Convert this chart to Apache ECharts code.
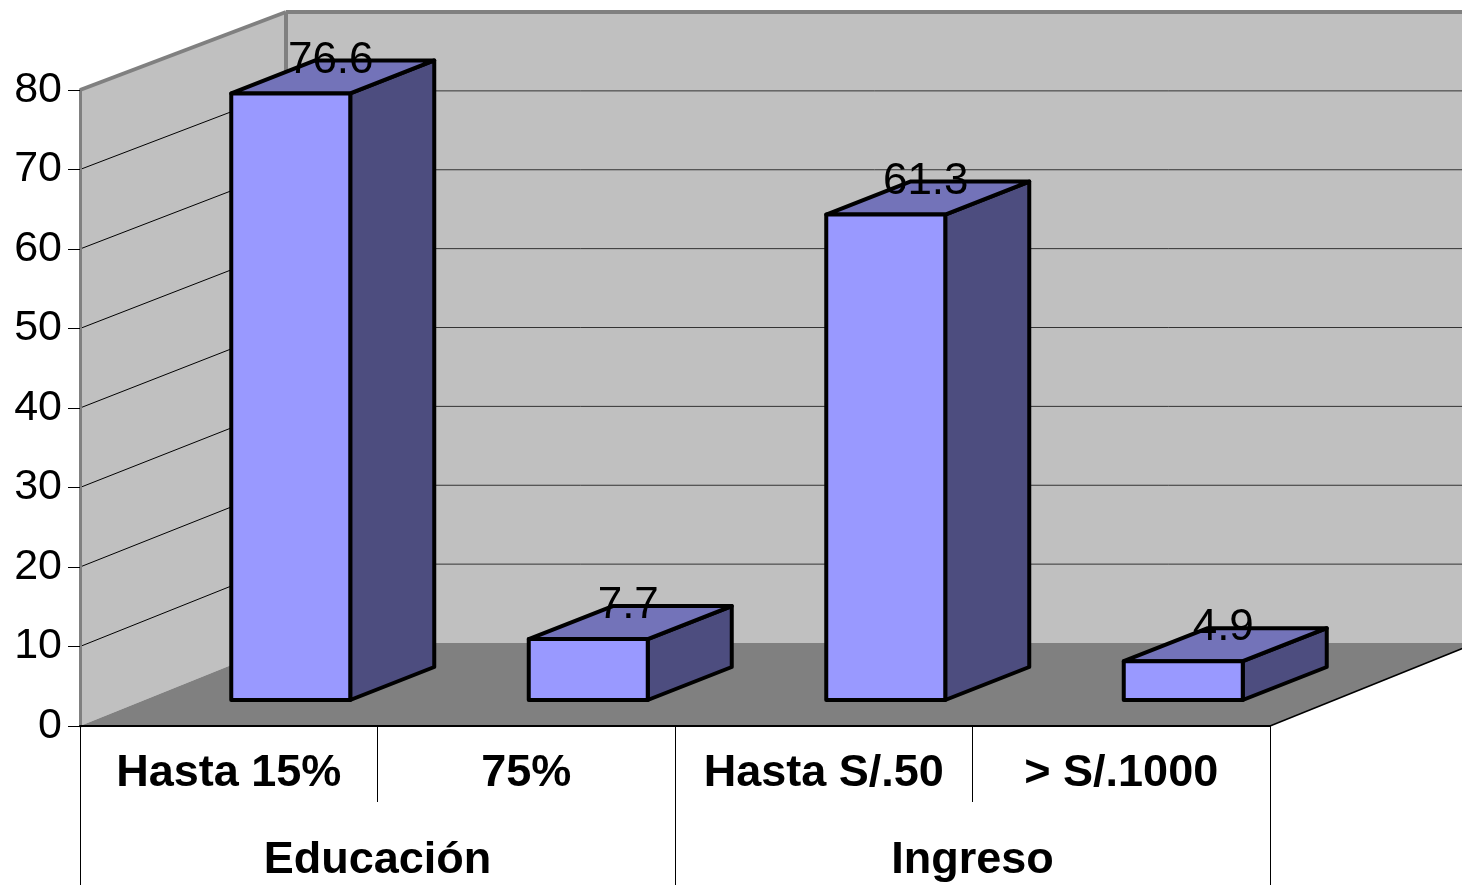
<!DOCTYPE html>
<html>
<head>
<meta charset="utf-8">
<title>Chart</title>
<style>
  html, body { margin: 0; padding: 0; background: #fff; }
  #main { width: 1462px; height: 885px; }
</style>
<script src="https://cdn.jsdelivr.net/npm/echarts@6/dist/echarts.min.js"></script>
</head>
<body>
<div id="main"></div>
<script>
const categories = ['Hasta 15%', '75%', 'Hasta S/.50', '> S/.1000'];
const groups = ['Educación', 'Ingreso'];
const values = [76.6, 7.7, 61.3, 4.9];
const yTicks = [0, 10, 20, 30, 40, 50, 60, 70, 80];

const FONT = 'Liberation Sans';
// how far the back wall sits from the front of the box
const WALL_DX = 206;
const wallDy = (v) => 83 - 5 * v / 80;
// where the bars stand on the floor and how deep they are
const BAR_SHIFT_X = 62, BAR_SHIFT_Y = 26, BAR_DX = 84, BAR_DY = 33;
// bars stand further back, so they come out a little shorter than the front scale
const BAR_SCALE = 0.996;

function poly(points, fill) {
  return {type: 'polygon', shape: {points: points}, style: {fill: fill, stroke: 'none'}};
}
function seg(x1, y1, x2, y2, color, width) {
  return {type: 'line', shape: {x1: x1, y1: y1, x2: x2, y2: y2}, style: {stroke: color, lineWidth: width}};
}

function renderWalls(params, api) {
  const g = params.coordSys;
  const left = g.x, right = g.x + g.width;
  const yOf = (v) => api.coord([0, v])[1];
  const backY = (v) => yOf(v) - wallDy(v);
  const backL = left + WALL_DX, backR = right + WALL_DX;
  const kids = [
    poly([[left, yOf(0)], [left, yOf(80)], [backL, backY(80)], [backL, backY(0)]], '#C0C0C0'),
    poly([[backL, backY(0)], [backL, backY(80)], [backR, backY(80)], [backR, backY(0)]], '#C0C0C0'),
    poly([[left, yOf(0)], [backL, backY(0)], [backR, backY(0)], [right, yOf(0)]], '#808080')
  ];
  yTicks.slice(1, -1).forEach(function (v) {
    kids.push(seg(left, yOf(v), backL, backY(v), '#000', 1));
    kids.push(seg(backL, backY(v), backR, backY(v), '#333', 1));
  });
  kids.push(seg(left, yOf(80), backL, backY(80), '#808080', 4));
  kids.push(seg(backL, backY(80), backR, backY(80), '#808080', 4));
  kids.push(seg(backL, backY(80), backL, backY(0), '#808080', 4));
  kids.push(seg(right, yOf(0), backR, backY(0), '#000', 1.5));
  return {type: 'group', children: kids};
}

function renderBar(params, api) {
  const top = api.coord([api.value(0), api.value(1)]);
  const base = api.coord([api.value(0), 0]);
  const w = api.size([1, 0])[0] * 0.4;
  const x0 = top[0] + BAR_SHIFT_X - w / 2, x1 = x0 + w;
  const yB = base[1] - BAR_SHIFT_Y;
  const yT = yB - (base[1] - top[1]) * BAR_SCALE;
  const edge = {stroke: '#000', lineWidth: 4, lineJoin: 'round'};
  return {
    type: 'group',
    children: [
      {type: 'polygon', shape: {points: [[x1, yT], [x1 + BAR_DX, yT - BAR_DY], [x1 + BAR_DX, yB - BAR_DY], [x1, yB]]},
        style: Object.assign({fill: '#4D4D7F'}, edge)},
      {type: 'polygon', shape: {points: [[x0, yT], [x0 + BAR_DX, yT - BAR_DY], [x1 + BAR_DX, yT - BAR_DY], [x1, yT]]},
        style: Object.assign({fill: '#7373B9'}, edge)},
      {type: 'rect', shape: {x: x0, y: yT, width: w, height: yB - yT},
        style: Object.assign({fill: '#9999FF'}, edge)},
      {type: 'text', x: x0 + w / 2 + 40, y: yT - 33,
        style: {text: String(api.value(1)), font: '44px "' + FONT + '"', fill: '#000', align: 'center', verticalAlign: 'middle'}}
    ]
  };
}

const myChart = echarts.init(document.getElementById('main'));
myChart.setOption({
  animation: false,
  backgroundColor: '#fff',
  grid: {left: 80, top: 90, width: 1190, height: 636, containLabel: false},
  xAxis: [
    {
      type: 'category', data: categories, position: 'bottom', z: 5,
      axisLine: {show: true, lineStyle: {color: '#000', width: 2}},
      axisTick: {show: true, length: 76, lineStyle: {color: '#000', width: 1}},
      axisLabel: {margin: 25, fontFamily: FONT, fontSize: 45, fontWeight: 'bold', color: '#000', interval: 0}
    },
    {
      type: 'category', data: groups, position: 'bottom', offset: 0, z: 5,
      axisLine: {show: false},
      axisTick: {show: true, length: 159, lineStyle: {color: '#000', width: 1}},
      axisLabel: {margin: 112, fontFamily: FONT, fontSize: 45, fontWeight: 'bold', color: '#000', interval: 0}
    }
  ],
  yAxis: {
    type: 'value', min: 0, max: 80, interval: 10, z: 5,
    axisLine: {show: true, lineStyle: {color: '#808080', width: 3}},
    axisTick: {show: true, length: 12, lineStyle: {color: '#000', width: 1}},
    axisLabel: {margin: 18, fontFamily: FONT, fontSize: 43, color: '#000'},
    splitLine: {show: false}
  },
  series: [
    {type: 'custom', name: 'walls', silent: true, z: 1, clip: false, data: [[0, 0]], encode: {x: 0, y: 1}, renderItem: renderWalls},
    {type: 'custom', name: 'bars', z: 3, clip: false, data: values.map(function (v, i) { return [i, v]; }), encode: {x: 0, y: 1}, renderItem: renderBar}
  ]
});
</script>
</body>
</html>
